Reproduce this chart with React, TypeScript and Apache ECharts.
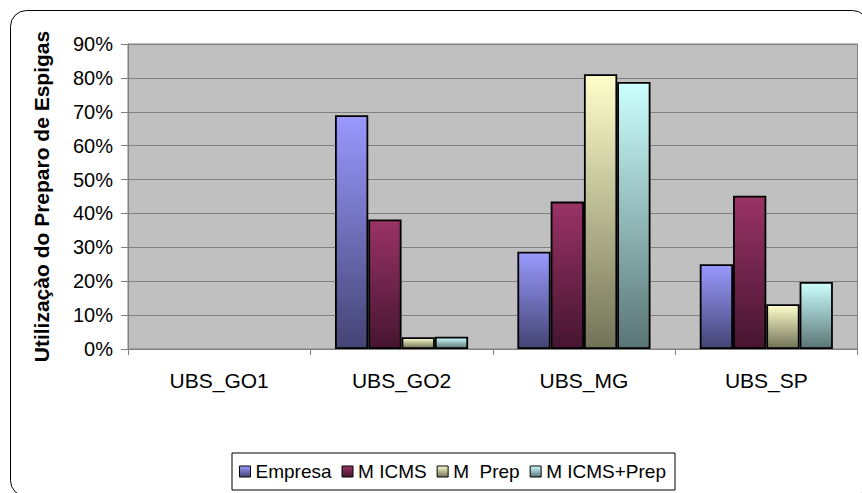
import React, { useEffect, useRef } from "react";
import * as echarts from "echarts";

const categories = ["UBS_GO1", "UBS_GO2", "UBS_MG", "UBS_SP"];
const seriesNames = ["Empresa", "M ICMS", "M  Prep", "M ICMS+Prep"];
const empresa = [0, 0.69, 0.287, 0.25];
const mIcms = [0, 0.382, 0.435, 0.452];
const mPrep = [0, 0.035, 0.811, 0.132];
const mIcmsPrep = [0, 0.036, 0.788, 0.198];
const yTicks = { min: 0, max: 0.9, interval: 0.1 };
const yAxisTitle = "Utilizaçào do Preparo de Espigas";

const gradients: [string, string][] = [
  ["#9999ff", "#444474"],
  ["#993366", "#461530"],
  ["#ffffcc", "#727258"],
  ["#ccffff", "#5a7575"],
];

const FONT = 'Arial, "Liberation Sans", sans-serif';

export default function App() {
  const ref = useRef<HTMLDivElement>(null);
  useEffect(() => {
    if (!ref.current) return;
    const chart = echarts.init(ref.current, null, { renderer: "svg" });
    const allData = [empresa, mIcms, mPrep, mIcmsPrep];
    const grad = (i: number) =>
      new echarts.graphic.LinearGradient(0, 0, 0, 1, [
        { offset: 0, color: gradients[i][0] },
        { offset: 1, color: gradients[i][1] },
      ]);
    chart.setOption({
      animation: false,
      backgroundColor: "#ffffff",
      graphic: [
        {
          type: "rect",
          shape: { x: 10.5, y: 10.5, width: 858, height: 486, r: 16 },
          style: { fill: "none", stroke: "#000", lineWidth: 1 },
          z: -1,
        },
      ],
      grid: {
        left: 128,
        right: 4.5,
        top: 44,
        bottom: 144,
        show: true,
        backgroundColor: "#c0c0c0",
        borderColor: "#808080",
        borderWidth: 1,
      },
      legend: {
        left: 232,
        top: 453,
        padding: [9, 9, 9, 7],
        itemGap: 10,
        itemWidth: 11,
        itemHeight: 11,
        icon: "rect",
        borderColor: "#000",
        borderWidth: 1,
        backgroundColor: "#fff",
        textStyle: { fontFamily: FONT, fontSize: 19, color: "#000" },
        itemStyle: { borderColor: "#000", borderWidth: 1 },
        data: seriesNames,
      },
      xAxis: {
        type: "category",
        data: categories,
        axisLine: { lineStyle: { color: "#808080", width: 1 } },
        axisTick: { show: true, length: 6, lineStyle: { color: "#808080" } },
        axisLabel: { fontFamily: FONT, fontSize: 21, color: "#000", margin: 21 },
      },
      yAxis: {
        type: "value",
        min: yTicks.min,
        max: yTicks.max,
        interval: yTicks.interval,
        name: yAxisTitle,
        nameLocation: "middle",
        nameGap: 76,
        nameTextStyle: { fontFamily: FONT, fontSize: 21, fontWeight: "bold", color: "#000" },
        axisLine: { show: true, lineStyle: { color: "#808080", width: 1 } },
        axisTick: { show: true, length: 7, lineStyle: { color: "#808080" } },
        axisLabel: {
          fontFamily: FONT,
          fontSize: 20,
          color: "#000",
          margin: 15,
          formatter: (v: number) => Math.round(v * 100) + "%",
        },
        splitLine: { show: true, lineStyle: { color: "#808080", width: 1 } },
      },
      series: allData.map((arr, i) => ({
        name: seriesNames[i],
        type: "bar",
        barGap: "0%",
        barCategoryGap: "27%",
        itemStyle: { color: grad(i), borderColor: "#000", borderWidth: 1.8 },
        data: arr.map((v) => (v === 0 ? { value: v, itemStyle: { borderWidth: 0 } } : v)),
      })),
    });
    return () => chart.dispose();
  }, []);
  return (
    <div
      ref={ref}
      style={{ position: "fixed", left: 0, top: 0, width: 862, height: 493 }}
    />
  );
}
